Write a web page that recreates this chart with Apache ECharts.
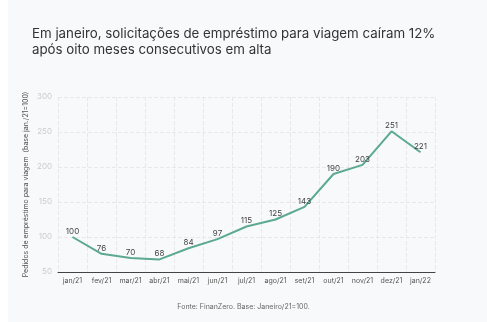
<!DOCTYPE html>
<html>
<head>
<meta charset="utf-8">
<script src="https://cdn.jsdelivr.net/npm/echarts@6/dist/echarts.min.js"></script>
<style>
html,body{margin:0;padding:0;background:#ffffff;}
#bg{position:absolute;left:8px;top:0;width:479px;height:322px;background:#f8f9fa;}
#chart{position:absolute;left:0;top:0;width:487px;height:322px;}
</style>
</head>
<body>
<div id="bg"></div>
<div id="chart"></div>
<script>
const categories = ['jan/21','fev/21','mar/21','abr/21','mai/21','jun/21','jul/21','ago/21','set/21','out/21','nov/21','dez/21','jan/22'];
const values = [100, 76, 70, 68, 84, 97, 115, 125, 143, 190, 203, 251, 221];
const yTicks = [50, 100, 150, 200, 250, 300];
const titleLines = ['Em janeiro, solicitações de empréstimo para viagem caíram 12%', 'após oito meses consecutivos em alta'];
const yAxisName = 'Pedidos de empréstimo para viagem  (base jan./21=100)';
const sourceText = 'Fonte: FinanZero. Base: Janeiro/21=100.';

const chart = echarts.init(document.getElementById('chart'), null, {renderer: 'canvas'});
chart.setOption({
  backgroundColor: 'transparent',
  textStyle: {fontFamily: 'Inter'},
  title: [{
    text: titleLines.join('\n'),
    left: 27, top: 21,
    textStyle: {fontFamily: 'Inter', fontSize: 13.3, fontWeight: 'normal', color: '#333333', lineHeight: 16}
  }, {
    text: sourceText,
    left: 'center', top: 298,
    textStyle: {fontFamily: 'Inter', fontSize: 7, fontWeight: 'normal', color: '#666666'}
  }],
  grid: {left: 58, right: 52, top: 97, bottom: 50, containLabel: false},
  xAxis: {
    type: 'category',
    data: categories,
    boundaryGap: true,
    axisLine: {lineStyle: {color: '#444444', width: 1}},
    axisTick: {alignWithLabel: true, length: 4, lineStyle: {color: '#444444'}},
    axisLabel: {fontSize: 7, color: '#555555', margin: 5, interval: 0},
    splitLine: {show: true, interval: 0, lineStyle: {color: '#e8e8e8', type: 'dashed', width: 1}}
  },
  yAxis: {
    type: 'value',
    min: yTicks[0], max: yTicks[yTicks.length - 1], interval: 50,
    name: yAxisName,
    nameLocation: 'middle',
    nameGap: 29,
    nameMoveOverlap: false,
    nameTextStyle: {fontSize: 7, color: '#555555'},
    axisLine: {show: false},
    axisTick: {show: false},
    axisLabel: {fontSize: 8, color: '#cccccc', margin: 6},
    splitLine: {lineStyle: {color: '#e8e8e8', type: 'dashed', width: 1}}
  },
  series: [{
    type: 'line',
    data: values,
    showSymbol: true,
    symbol: 'circle',
    symbolSize: 1,
    itemStyle: {color: '#5aa990', opacity: 0},
    lineStyle: {color: '#5aa990', width: 2},
    label: {show: true, position: 'top', fontSize: 8, color: '#444444', distance: 1, opacity: 1},
    silent: true
  }]
});
</script>
</body>
</html>
